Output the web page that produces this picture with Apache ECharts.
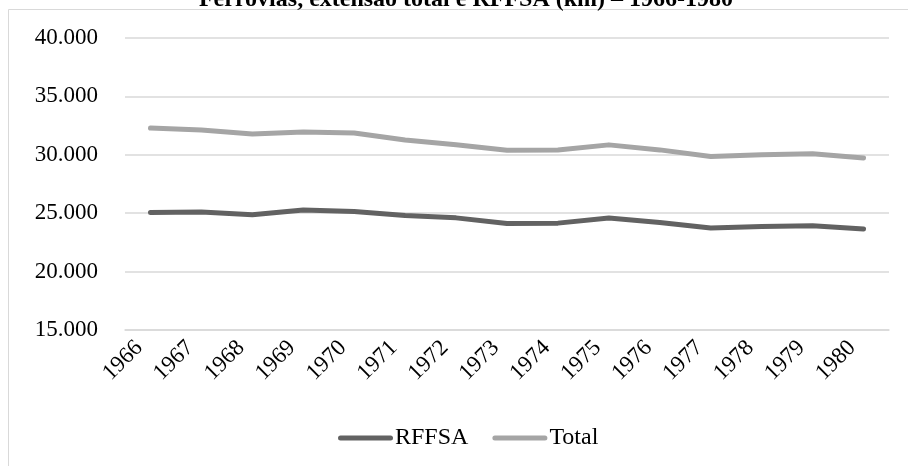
<!DOCTYPE html>
<html>
<head>
<meta charset="utf-8">
<script src="https://cdn.jsdelivr.net/npm/echarts@6/dist/echarts.min.js"></script>
<style>
html,body{margin:0;padding:0;background:#fff;}
#chart{width:908px;height:466px;}
</style>
</head>
<body>
<div id="chart"></div>
<script>
const titleText = 'Ferrovias, extensão total e RFFSA (km) – 1966-1980';
const years = ['1966','1967','1968','1969','1970','1971','1972','1973','1974','1975','1976','1977','1978','1979','1980'];
const rffsa = [25050, 25110, 24860, 25280, 25140, 24800, 24600, 24120, 24150, 24580, 24210, 23730, 23870, 23930, 23640];
const total = [32290, 32120, 31780, 31950, 31870, 31270, 30870, 30390, 30420, 30850, 30420, 29860, 30000, 30090, 29720];
const seriesNames = ['RFFSA', 'Total'];

const font = '"Liberation Serif", "Times New Roman", serif';
const chart = echarts.init(document.getElementById('chart'), null, {renderer: 'canvas'});
function fmt(v){ return String(v).replace(/\B(?=(\d{3})+(?!\d))/g, '.'); }
const lineIcon = 'path://M2.5,0 L52.5,0 A2.5,2.5 0 0 1 52.5,5 L2.5,5 A2.5,2.5 0 0 1 2.5,0 Z';

chart.setOption({
  animation: false,
  backgroundColor: '#fff',
  graphic: [
    {type: 'rect', shape: {x: 8.5, y: 9.5, width: 940, height: 500}, style: {fill: 'none', stroke: '#d9d9d9', lineWidth: 1}, z: 0},
    {type: 'text', x: 466, y: 0, style: {text: titleText, font: 'bold 24px ' + font, fill: '#000', align: 'center', verticalAlign: 'middle'}}
  ],
  grid: {left: 125, right: 19, top: 38, bottom: 136, containLabel: false},
  legend: {
    left: 333, top: 421,
    itemWidth: 55, itemHeight: 5, itemGap: 24,
    textStyle: {fontFamily: font, fontSize: 24, color: '#000', padding: [0,0,0,-3]},
    data: [
      {name: seriesNames[0], icon: lineIcon, itemStyle: {color: '#626262'}},
      {name: seriesNames[1], icon: lineIcon, itemStyle: {color: '#a5a5a5'}}
    ]
  },
  xAxis: {
    type: 'category', data: years, boundaryGap: true,
    axisLine: {show: true, lineStyle: {color: '#d9d9d9', width: 1.5}},
    axisTick: {show: false},
    axisLabel: {rotate: 45, fontFamily: font, fontSize: 23, color: '#000', margin: 3, interval: 0, padding: [0, 16, 0, 0]}
  },
  yAxis: {
    type: 'value', min: 15000, max: 40000, interval: 5000,
    axisLine: {show: false}, axisTick: {show: false},
    splitLine: {lineStyle: {color: '#d9d9d9', width: 1.5}},
    axisLabel: {fontFamily: font, fontSize: 23, color: '#000', margin: 27, formatter: fmt}
  },
  series: [
    {name: seriesNames[0], type: 'line', data: rffsa, symbol: 'none', lineStyle: {color: '#626262', width: 5, cap: 'round', join: 'round'}, itemStyle: {color: '#626262'}},
    {name: seriesNames[1], type: 'line', data: total, symbol: 'none', lineStyle: {color: '#a5a5a5', width: 5, cap: 'round', join: 'round'}, itemStyle: {color: '#a5a5a5'}}
  ]
});
</script>
</body>
</html>
